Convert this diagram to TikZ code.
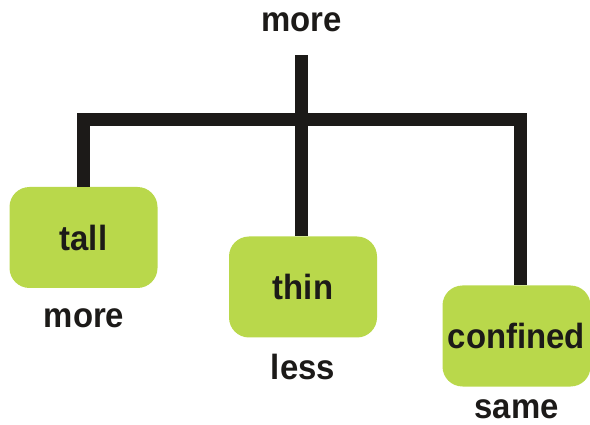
\documentclass[tikz,border=0pt]{standalone}
\usepackage{fontspec}
\setmainfont{Liberation Sans}[FakeStretch=0.94]
\usetikzlibrary{calc}
\definecolor{boxgreen}{RGB}{185,216,75}
\definecolor{ink}{RGB}{28,26,24}
\tikzset{
  lbl/.style={font=\fontsize{35}{40}\selectfont\bfseries, text=ink, inner sep=0pt},
  box/.style={lbl, rectangle, rounded corners=20pt, fill=boxgreen, draw=none,
              minimum width=148pt, minimum height=101pt},
  conn/.style={draw=ink, line width=13pt, line join=miter, line cap=rect}
}
\begin{document}
\begin{tikzpicture}[x=1pt,y=-1pt]
\useasboundingbox (0,0) rectangle (590,425);
\node[box] (tall) at (83.5,237.5) {tall};
\node[box] (thin) at (303,287) {thin};
\node[box] (confined) at (516.5,336) {confined};
\node[lbl, anchor=base] (toplbl) at (301.5,32) {more};
\node[lbl, anchor=base] (tallv) at (84,327) {more};
\node[lbl, anchor=base] (thinv) at (303,379) {less};
\node[lbl, anchor=base] (confv) at (516.5,418) {same};
\coordinate (stem) at (301.5,55.5);
\coordinate (bar) at (301.5,119.5);
\draw[draw=ink, line width=13pt] (stem) -- (stem |- thin.north);
\draw[conn, line cap=butt] (tall.north) |- (bar) -| ($(confined.north)+(4,0)$);
\end{tikzpicture}
\end{document}
